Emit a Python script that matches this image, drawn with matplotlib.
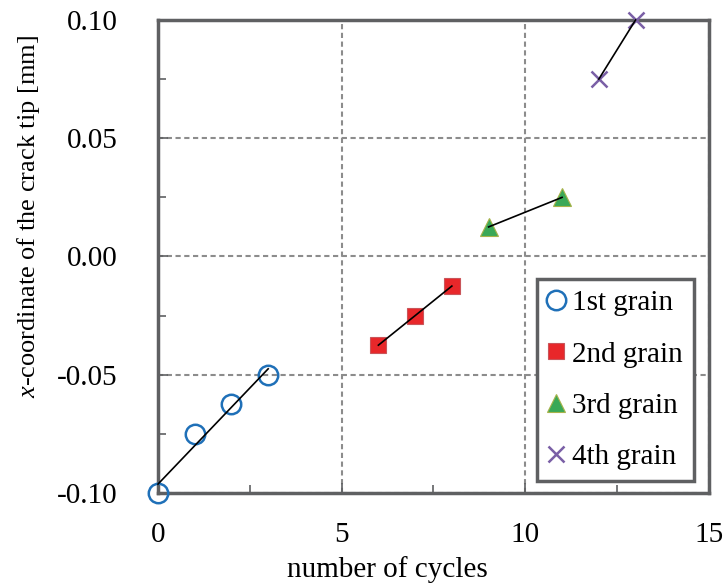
import numpy as np
import matplotlib.pyplot as plt
from matplotlib.ticker import MultipleLocator, FuncFormatter

plt.rcParams['font.family'] = ['Liberation Serif', 'DejaVu Serif']
plt.rcParams['mathtext.fontset'] = 'custom'
plt.rcParams['mathtext.it'] = 'Liberation Serif:italic'
plt.rcParams['mathtext.rm'] = 'Liberation Serif'
plt.rcParams['axes.unicode_minus'] = False

# crack tip position per grain
cycles_1 = [0, 1, 2, 3]
tip_1 = [-0.100, -0.075, -0.0625, -0.050]
cycles_2 = [6, 7, 8]
tip_2 = [-0.0375, -0.025, -0.0125]
cycles_3 = [9, 11]
tip_3 = [0.0125, 0.025]
cycles_4 = [12, 13]
tip_4 = [0.075, 0.100]

labels = ['1st grain', '2nd grain', '3rd grain', '4th grain']

fig = plt.figure(figsize=(7.26, 5.85), dpi=100)
ax = fig.add_axes([0.2176, 0.1573, 0.759, 0.8085])

spine_col = '#5f6062'
grid_col = '#8c8c8c'

styles = [
    dict(marker='o', ms=14, mfc='none', mec='#1f70b8', mew=1.8),
    dict(marker='s', ms=11, mfc='#e8272a', mec='#c9555a', mew=0.8),
    dict(marker='^', ms=13, mfc='#3aa857', mec='#a8b34a', mew=0.8),
    dict(marker='x', ms=12, mfc='none', mec='#7a5fa6', mew=1.8),
]

series = [(cycles_1, tip_1), (cycles_2, tip_2), (cycles_3, tip_3), (cycles_4, tip_4)]
for (xs, ys), st, lab in zip(series, styles, labels):
    ax.plot(xs, ys, ls='none', label=lab, clip_on=False, zorder=3, **st)
    # least-squares trend line through each grain's points
    k, b = np.polyfit(xs, ys, 1)
    xx = np.array([min(xs), max(xs)])
    ax.plot(xx, k * xx + b, color='black', lw=1.2, zorder=4, clip_on=False)

ax.set_xlim(0, 15)
ax.set_ylim(-0.10, 0.10)
ax.xaxis.set_major_locator(MultipleLocator(5))
ax.xaxis.set_minor_locator(MultipleLocator(2.5))
ax.yaxis.set_major_locator(MultipleLocator(0.05))
ax.yaxis.set_minor_locator(MultipleLocator(0.025))
ax.yaxis.set_major_formatter(FuncFormatter(lambda v, p: f'{v:.2f}'.replace('-0.00', '0.00')))

ax.grid(True, which='major', color=grid_col, ls=(0, (2.5, 1.7)), lw=1.5)
ax.tick_params(which='both', direction='in', color=spine_col, width=1.2)
ax.tick_params(which='major', length=7)
ax.tick_params(which='minor', length=6)
ax.tick_params(axis='y', which='major', pad=29, labelsize=21)
ax.tick_params(axis='x', which='major', pad=21, labelsize=21)

for s in ax.spines.values():
    s.set_color(spine_col)
    s.set_linewidth(2.5)

ax.set_xlabel('number of cycles', fontsize=21)
ax.set_ylabel('$x$-coordinate of the crack tip [mm]', fontsize=19)
ax.xaxis.set_label_coords(0.4165, -0.1332)
ax.yaxis.set_label_coords(-0.2105, 0.5846)

leg = ax.legend(loc='lower right', bbox_to_anchor=(0.973, 0.025), borderaxespad=0,
                fontsize=21, fancybox=False, framealpha=1, edgecolor=spine_col,
                labelspacing=0.85, handlelength=0.55, handletextpad=0.28,
                borderpad=0.38, numpoints=1)
leg.get_frame().set_linewidth(2.5)

fig.savefig('out.png', dpi=100)
